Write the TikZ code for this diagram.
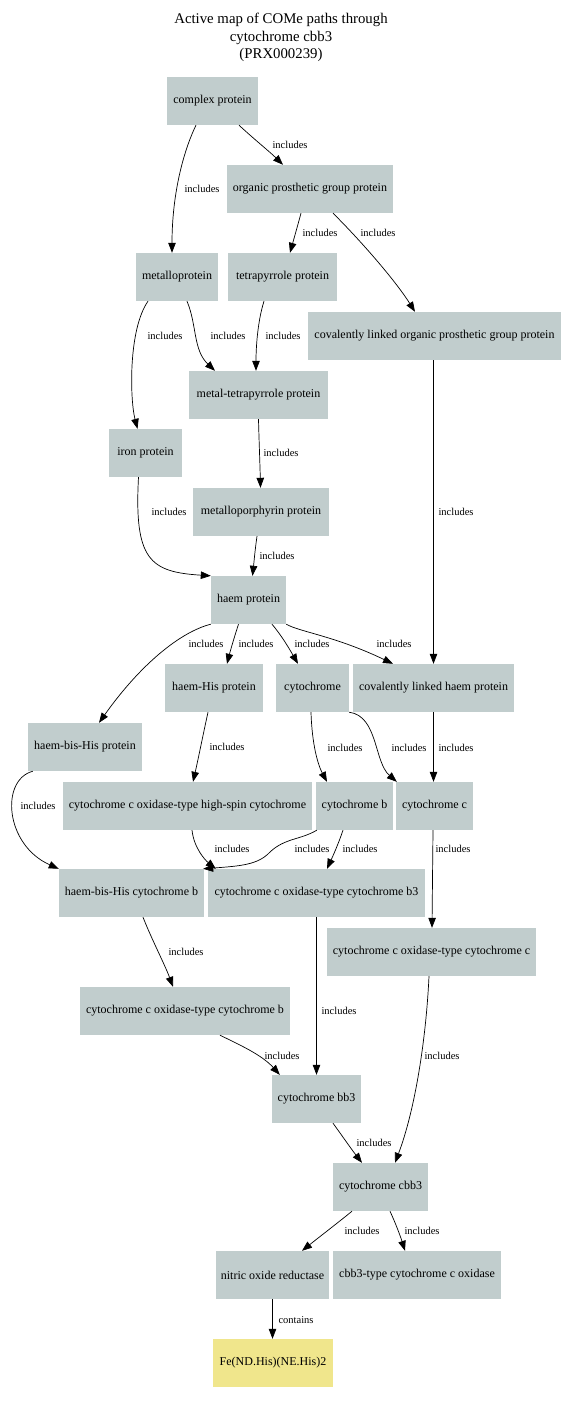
\documentclass[tikz,border=0pt]{standalone}
\usepackage{fontspec}
\setmainfont{Liberation Serif}
\usetikzlibrary{arrows.meta}
\definecolor{boxgrey}{RGB}{193,205,205}
\definecolor{khakibox}{RGB}{240,230,140}
\tikzset{
  box/.style={fill=boxgrey, draw=none, minimum height=48pt, inner sep=0pt,
    font=\fontsize{12}{14}\selectfont},
  leaf/.style={box, fill=khakibox},
  lbl/.style={inner sep=0pt, font=\fontsize{10.5}{12}\selectfont},
  edge/.style={line width=0.7pt, -{Triangle[length=10pt,width=7.5pt]}},
  ttl/.style={align=center, inner sep=0pt, font=\fontsize{14.8}{17.5}\selectfont}
}
\begin{document}
\begin{tikzpicture}[x=1pt,y=-1pt]
\useasboundingbox (0,0) rectangle (564,1404);

% heading
\node[ttl] (title) at (281,37.5) {Active map of COMe paths through\\cytochrome cbb3\\(PRX000239)};

% classes
\node[box, minimum width=91pt]  (cp)    at (212.5,101) {complex protein};
\node[box, minimum width=166pt] (opg)   at (310,189)   {organic prosthetic group protein};
\node[box, minimum width=82pt]  (mp)    at (177,277)   {metalloprotein};
\node[box, minimum width=109pt] (tp)    at (282.5,277) {tetrapyrrole protein};
\node[box, minimum width=253pt] (clopg) at (434.5,336) {covalently linked organic prosthetic group protein};
\node[box, minimum width=139pt] (mtp)   at (258.5,395) {metal-tetrapyrrole protein};
\node[box, minimum width=73pt]  (ip)    at (145.5,453) {iron protein};
\node[box, minimum width=136pt] (mpp)   at (261,512)   {metalloporphyrin protein};
\node[box, minimum width=75pt]  (hp)    at (248.5,600) {haem protein};
\node[box, minimum width=98pt]  (hhp)   at (214,688)   {haem-His protein};
\node[box, minimum width=73pt]  (cyt)   at (312.5,688) {cytochrome};
\node[box, minimum width=161pt] (clhp)  at (433.5,688) {covalently linked haem protein};
\node[box, minimum width=114pt] (hbhp)  at (85,747)    {haem-bis-His protein};
\node[box, minimum width=249pt] (hs)    at (187.5,806) {cytochrome c oxidase-type high-spin cytochrome};
\node[box, minimum width=77pt]  (cb)    at (354.5,806) {cytochrome b};
\node[box, minimum width=77pt]  (cc)    at (434.5,806) {cytochrome c};
\node[box, minimum width=145pt] (hbcb)  at (131.5,893) {haem-bis-His cytochrome b};
\node[box, minimum width=217pt] (cb3)   at (316.5,893) {cytochrome c oxidase-type cytochrome b3};
\node[box, minimum width=209pt] (ccc)   at (431.5,952) {cytochrome c oxidase-type cytochrome c};
\node[box, minimum width=210pt] (ccb)   at (185,1011)  {cytochrome c oxidase-type cytochrome b};
\node[box, minimum width=89pt]  (bb3)   at (316.5,1099) {cytochrome bb3};
\node[box, minimum width=95pt]  (cbb3)  at (380.5,1187) {cytochrome cbb3};
\node[box, minimum width=113pt] (nor)   at (272.5,1275) {nitric oxide reductase};
\node[box, minimum width=168pt] (cbbt)  at (417,1275)  {cbb3-type cytochrome c oxidase};
\node[leaf, minimum width=120pt] (fe)   at (273,1363)  {Fe(ND.His)(NE.His)2};

% links
\draw[edge] ([xshift=26.5pt]cp.south) .. controls (255,140) and (270,152) .. ([xshift=-27pt]opg.north);
\draw[edge] ([xshift=-16.5pt]cp.south) .. controls (183,152) and (172,195) .. ([xshift=-5pt]mp.north);
\draw[edge] ([xshift=-9pt]opg.south) .. controls (297,228) and (293,242) .. ([xshift=7.5pt]tp.north);
\draw[edge] ([xshift=23pt]opg.south) .. controls (360,240) and (395,280) .. ([xshift=-19.5pt]clopg.north);
\draw[edge] ([xshift=-29pt]mp.south) .. controls (128,330) and (130,400) .. ([xshift=-8pt]ip.north);
\draw[edge] ([xshift=10pt]mp.south) .. controls (197,325) and (193,350) .. ([xshift=-43.5pt]mtp.north);
\draw[edge] ([xshift=-18.5pt]tp.south) .. controls (258,320) and (256,345) .. ([xshift=-2.5pt]mtp.north);
\draw[edge] ([xshift=-1pt]clopg.south) -- (clhp.north);
\draw[edge] (mtp.south) .. controls (259,440) and (260,465) .. ([xshift=-0.5pt]mpp.north);
\draw[edge] ([xshift=-7pt]ip.south) .. controls (134,560) and (150,572) .. (hp.north west);
\draw[edge] ([xshift=-4pt]mpp.south) .. controls (255,550) and (254,562) .. ([xshift=4pt]hp.north);
\draw[edge] (hp.south west) .. controls (180,632) and (140,665) .. ([xshift=14pt]hbhp.north);
\draw[edge] ([xshift=-10pt]hp.south) .. controls (234,638) and (230,652) .. ([xshift=13pt]hhp.north);
\draw[edge] ([xshift=23.5pt]hp.south) .. controls (282,636) and (290,650) .. ([xshift=-14.5pt]cyt.north);
\draw[edge] (hp.south east) .. controls (300,632) and (335,636) .. ([xshift=-40.5pt]clhp.north);
\draw[edge] ([xshift=-6pt]hhp.south) .. controls (203,735) and (198,760) .. ([xshift=5.5pt]hs.north);
\draw[edge] ([xshift=-1.5pt]cyt.south) .. controls (312,745) and (318,765) .. ([xshift=-27.5pt]cb.north);
\draw[edge] (cyt.south east) .. controls (378,716) and (374,762) .. ([xshift=1pt]cc.north west);
\draw[edge] (clhp.south) -- ([xshift=-1pt]cc.north);
\draw[edge] ([xshift=5pt]hbhp.south west) .. controls (0,780) and (5,845) .. (hbcb.north west);
\draw[edge] ([xshift=4.5pt]hs.south) .. controls (194,848) and (205,860) .. ([xshift=8pt]cb3.north west);
\draw[edge] ([xshift=1pt]cb.south west) .. controls (300,840) and (285,838) .. (270,852)
            .. controls (258,865) and (240,866) .. ([xshift=-1pt]hbcb.north east);
\draw[edge] ([xshift=-11.5pt]cb.south) .. controls (338,845) and (332,858) .. ([xshift=10.5pt]cb3.north);
\draw[edge] ([xshift=-1.5pt]cc.south) -- ([xshift=0.5pt]ccc.north);
\draw[edge] ([xshift=11.5pt]hbcb.south) .. controls (152,940) and (165,965) .. ([xshift=-12pt]ccb.north);
\draw[edge] (cb3.south) -- (bb3.north);
\draw[edge] ([xshift=-2.5pt]ccc.south) .. controls (426,1040) and (415,1110) .. ([xshift=14.5pt]cbb3.north);
\draw[edge] ([xshift=35pt]ccb.south) .. controls (240,1045) and (262,1055) .. ([xshift=8pt]bb3.north west);
\draw[edge] ([xshift=16.5pt]bb3.south) .. controls (343,1137) and (352,1150) .. ([xshift=-18.5pt]cbb3.north);
\draw[edge] ([xshift=-28.5pt]cbb3.south) .. controls (335,1225) and (318,1238) .. ([xshift=29.5pt]nor.north);
\draw[edge] ([xshift=9.5pt]cbb3.south) .. controls (395,1222) and (400,1235) .. ([xshift=-12pt]cbbt.north);
\draw[edge] (nor.south) -- ([xshift=-0.5pt]fe.north);

% link labels
\node[lbl] (l1)  at (290,145)  {includes};
\node[lbl] (l2)  at (202,189)  {includes};
\node[lbl] (l3)  at (320,233)  {includes};
\node[lbl] (l4)  at (378,233)  {includes};
\node[lbl] (l5)  at (165,336)  {includes};
\node[lbl] (l6)  at (228,336)  {includes};
\node[lbl] (l7)  at (283,336)  {includes};
\node[lbl] (l8)  at (456,512)  {includes};
\node[lbl] (l9)  at (281,453)  {includes};
\node[lbl] (l10) at (169,512)  {includes};
\node[lbl] (l11) at (277,556)  {includes};
\node[lbl] (l12) at (206,644)  {includes};
\node[lbl] (l13) at (256,644)  {includes};
\node[lbl] (l14) at (312,644)  {includes};
\node[lbl] (l15) at (394,644)  {includes};
\node[lbl] (l16) at (227,747)  {includes};
\node[lbl] (l17) at (345,748)  {includes};
\node[lbl] (l18) at (409,748)  {includes};
\node[lbl] (l19) at (456,748)  {includes};
\node[lbl] (l20) at (38,806)   {includes};
\node[lbl] (l21) at (232,849)  {includes};
\node[lbl] (l22) at (312,849)  {includes};
\node[lbl] (l23) at (360,849)  {includes};
\node[lbl] (l24) at (453,849)  {includes};
\node[lbl] (l25) at (186,952)  {includes};
\node[lbl] (l26) at (339,1011) {includes};
\node[lbl] (l27) at (442,1056) {includes};
\node[lbl] (l28) at (282,1056) {includes};
\node[lbl] (l29) at (374,1143) {includes};
\node[lbl] (l30) at (362,1231) {includes};
\node[lbl] (l31) at (422,1231) {includes};
\node[lbl] (l32) at (296,1320) {contains};
\end{tikzpicture}
\end{document}
